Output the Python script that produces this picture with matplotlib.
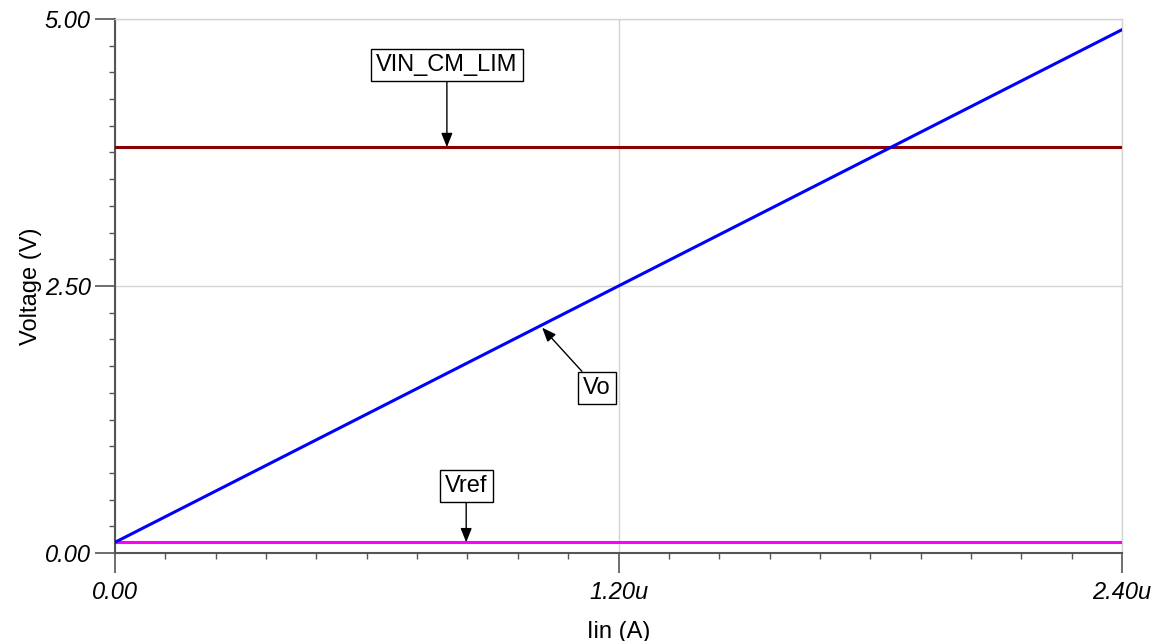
import numpy as np
import matplotlib
matplotlib.use("Agg")
from matplotlib import pyplot as plt

# data (current in uA, voltage in V)
iin = [0.0, 0.6, 1.2, 1.8, 2.4]
vo = [0.1, 1.3, 2.5, 3.7, 4.9]
vin_cm_lim = [3.8, 3.8, 3.8, 3.8, 3.8]
vref = [0.1, 0.1, 0.1, 0.1, 0.1]

xticks = [0.0, 1.2, 2.4]
xticklabels = ['0.00', '1.20u', '2.40u']
yticks = [0.0, 2.5, 5.0]
yticklabels = ['0.00', '2.50', '5.00']

plt.rcParams['font.family'] = ['Liberation Sans', 'DejaVu Sans']
fs = 17

fig = plt.figure(figsize=(11.56, 6.41), dpi=100)
ax = fig.add_axes([115/1156, 1-553/641, (1122-115)/1156, (553-19)/641])

ax.plot(iin, vin_cm_lim, color='#8b0000', lw=2.2, zorder=3)
ax.plot(iin, vref, color='#ff00ff', lw=2.2, zorder=3)
ax.plot(iin, vo, color='#0000ff', lw=2.2, zorder=4)

ax.set_xlim(0, 2.4)
ax.set_ylim(0, 5.0)

ax.set_xticks(xticks)
ax.set_xticklabels(xticklabels, fontstyle='italic', fontsize=fs)
ax.set_yticks(yticks)
ax.set_yticklabels(yticklabels, fontstyle='italic', fontsize=fs)
ax.set_xticks(np.arange(0, 2.41, 0.12), minor=True)
ax.set_yticks(np.arange(0, 5.01, 0.25), minor=True)

ax.tick_params(which='major', direction='out', length=14.5, width=1.2, color='#555555')
ax.tick_params(axis='x', which='major', pad=6)
ax.tick_params(axis='y', which='major', pad=3)
ax.tick_params(which='minor', direction='out', length=4, width=1, color='#555555')

ax.grid(True, which='major', color='#d4d4d4', lw=1, zorder=0)
for s in ['left', 'bottom']:
    ax.spines[s].set_color('#555555')
    ax.spines[s].set_linewidth(1.5)
for s in ['top', 'right']:
    ax.spines[s].set_color('#d4d4d4')
    ax.spines[s].set_linewidth(1)

ax.set_xlabel('Iin (A)', fontsize=fs, labelpad=12)
ax.set_ylabel('Voltage (V)', fontsize=fs, labelpad=2)

box = dict(boxstyle='square,pad=0.22', fc='white', ec='black', lw=1)
arrow = dict(arrowstyle='-|>,head_length=0.5,head_width=0.2', color='black', lw=1,
             shrinkA=0, shrinkB=0)
ax.annotate('VIN_CM_LIM', xy=(0.791, 3.8), xytext=(0.791, 4.57), fontsize=fs,
            ha='center', va='center', bbox=box, arrowprops=arrow, zorder=5)
ax.annotate('Vo', xy=(1.018, 2.11), xytext=(1.149, 1.545), fontsize=fs,
            ha='center', va='center', bbox=box, arrowprops=arrow, zorder=5)
ax.annotate('Vref', xy=(0.837, 0.1), xytext=(0.837, 0.63), fontsize=fs,
            ha='center', va='center', bbox=box, arrowprops=arrow, zorder=5)

fig.savefig('out.png', dpi=100)
